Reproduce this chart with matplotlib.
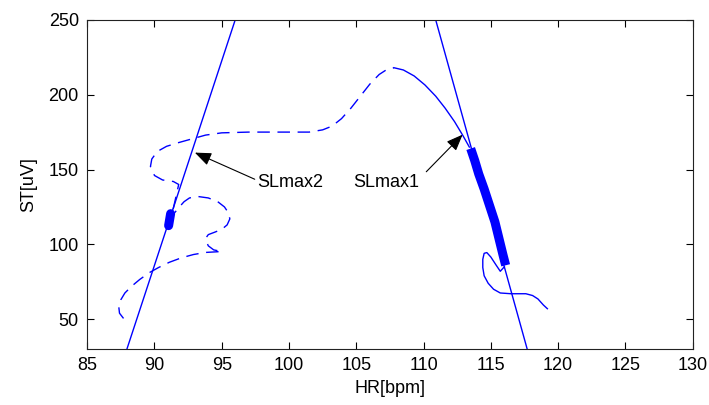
import matplotlib
matplotlib.use("Agg")
import matplotlib.pyplot as plt

plt.rcParams['font.family'] = ['Liberation Sans', 'DejaVu Sans']

# exercise phase of the HR/ST loop (dashed)
dash_hr = [87.7, 87.4, 87.35, 87.5, 87.8, 88.3, 88.9, 89.6, 90.3, 91.1, 92.0, 92.9,
           93.8, 95.0, 94.4, 94.0, 93.9, 93.8, 94.0, 94.5, 95.0, 95.4, 95.6, 95.5,
           95.2, 94.7, 94.0, 93.2, 92.6, 92.2, 91.8, 91.4, 91.2,
           91.4, 91.6, 91.8, 91.4, 90.6, 90.0, 89.7, 89.8, 90.2, 90.9, 91.8,
           92.8, 93.8, 95.0, 97.0, 99.5, 101.5, 102.5, 103.2, 103.9, 104.6,
           105.3, 106.0, 106.7, 107.3, 107.8]
dash_st = [50.5, 54, 58, 63, 67.5, 72, 76.5, 81, 84.5, 88, 91, 93.2,
           94.6, 95.2, 96.3, 99, 101, 104, 106.5, 108.2, 110, 113, 117, 121,
           125, 128.5, 131, 132, 131, 128.5, 124.5, 120, 117,
           124, 132, 140, 142, 143, 146, 152, 157, 162, 165.5, 168,
           170.5, 173, 174.5, 175, 175, 175, 176.5, 179, 184, 191,
           199, 207, 213.5, 217, 218]

# recovery phase (thin solid)
rec_hr = [107.8, 108.5, 109.3, 110.1, 110.9, 111.6, 112.3, 112.9, 113.4]
rec_st = [218, 216.5, 212.5, 206.5, 199, 191, 182, 173, 165]

# dense stretch of samples (thick)
dense_hr = [113.5, 113.8, 114.1, 114.5, 114.9, 115.3, 115.6, 115.9, 116.1]
dense_st = [164, 156, 147, 137, 126, 115, 104, 93, 86]

# tail after the dense stretch
tail_hr = [116.0, 115.7, 115.4, 115.0, 114.7, 114.5, 114.4, 114.4, 114.5, 114.8,
           115.2, 115.7, 116.5, 117.6, 118.1, 118.5, 118.9, 119.2]
tail_st = [85, 82, 86, 91.5, 94.5, 94, 90, 84.5, 79, 74,
           70, 67.5, 67, 67, 65.8, 63.5, 59.5, 57]

# dense cluster at the low-HR end
blob_hr = [91.05, 91.2]
blob_st = [112.5, 120.5]

# maximum slope lines
sl1_hr = [110.9, 117.7]
sl1_st = [250, 30]
sl2_hr = [87.95, 96.0]
sl2_st = [30, 250]

# annotations: label, text position, arrow tip and tail
ann_labels = ['SLmax2', 'SLmax1']
ann_text_hr = [97.6, 104.75]
ann_text_st = [141, 141]
ann_tip_hr = [93.0, 112.9]
ann_tip_st = [161.3, 173.3]
ann_tail_hr = [97.45, 110.2]
ann_tail_st = [143.5, 148.5]

fig = plt.figure(figsize=(7.09, 4.05), dpi=100)
ax = fig.add_axes([0.123, 0.138, 0.854, 0.813])

blue = '#0000ff'
ax.plot(dash_hr, dash_st, color=blue, lw=1.0, dashes=(9, 5.5))
ax.plot(rec_hr, rec_st, color=blue, lw=1.0)
ax.plot(dense_hr, dense_st, color=blue, lw=6.5, solid_capstyle='butt',
        solid_joinstyle='round')
ax.plot(tail_hr, tail_st, color=blue, lw=1.0)
ax.plot(blob_hr, blob_st, color=blue, lw=6.5, solid_capstyle='round')
ax.plot(sl1_hr, sl1_st, color=blue, lw=1.0)
ax.plot(sl2_hr, sl2_st, color=blue, lw=1.0)

for i, lab in enumerate(ann_labels):
    ax.text(ann_text_hr[i], ann_text_st[i], lab, fontsize=13, va='center', ha='left')
    ax.annotate('', xy=(ann_tip_hr[i], ann_tip_st[i]),
                xytext=(ann_tail_hr[i], ann_tail_st[i]),
                arrowprops=dict(arrowstyle='-|>,head_length=1.0,head_width=0.4',
                                color='black', lw=0.8, shrinkA=0, shrinkB=0))

ax.set_xlim(85, 130)
ax.set_ylim(30, 250)
ax.set_xticks(range(85, 131, 5))
ax.set_yticks(range(50, 251, 50))
ax.tick_params(direction='in', length=5, width=0.8, top=True, right=True,
               labelsize=13, pad=6)
for s in ax.spines.values():
    s.set_linewidth(0.8)
    s.set_color('#222222')

ax.set_xlabel('HR[bpm]', fontsize=13, labelpad=4)
ax.set_ylabel('ST[uV]', fontsize=13, labelpad=8)

fig.savefig('out.png', dpi=100)
